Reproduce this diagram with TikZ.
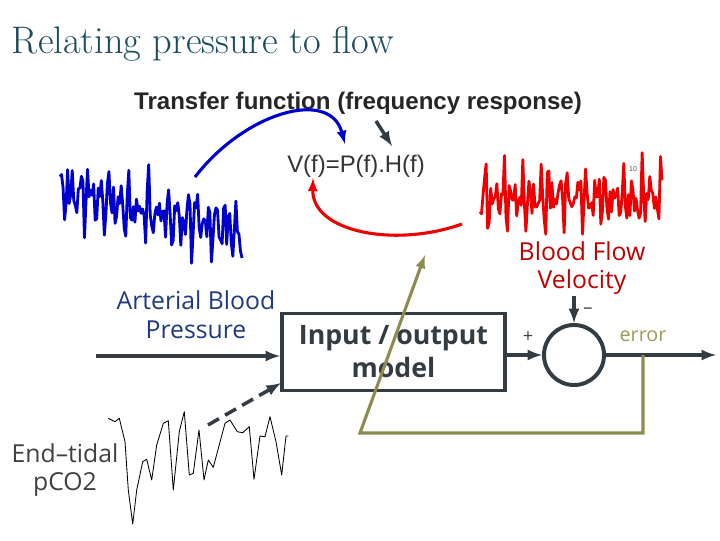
\documentclass[tikz,border=0pt]{standalone}
\usepackage{fontspec}
\usetikzlibrary{arrows,positioning}
\newfontfamily\arialfont{Liberation Sans}
\newfontfamily\softsans{Open Sans}
\definecolor{titleteal}{HTML}{1B4D5C}
\definecolor{slate}{HTML}{323C42}
\definecolor{navytext}{HTML}{1F3A80}
\definecolor{redtext}{HTML}{C00000}
\definecolor{sigred}{HTML}{EE0000}
\definecolor{sigblue}{HTML}{0000CC}
\definecolor{olivefb}{HTML}{8C8C50}
\definecolor{olivetext}{HTML}{9A9A5A}
\definecolor{graytext}{HTML}{404040}

\begin{document}
\begin{tikzpicture}[x=0.025cm, y=-0.025cm,
  comment/.style={font=\softsans\fontsize{17.6}{20.5}\selectfont, align=center},
  iobox/.style={draw=slate, line width=2.8pt, minimum width=5.575cm, minimum height=1.925cm,
    font=\softsans\bfseries\fontsize{19}{23.5}\selectfont, text=slate, align=center},
  sumnode/.style={circle, draw=slate, line width=2.8pt, minimum size=1.5cm, inner sep=0pt},
  conn/.style={slate, line width=2.5pt, -latex},
  feedback/.style={olivefb, line width=2.2pt},
  sig/.style={line join=round}]
\useasboundingbox (0,0) rectangle (720,540);

% headings
\node [anchor=base west, text=titleteal, font=\fontsize{27.3}{32}\selectfont] (title) at (7,53) {Relating pressure to flow};
\node [anchor=base, text=black!85, font=\arialfont\bfseries\fontsize{17.1}{20}\selectfont] (tf) at (358,109) {Transfer function (frequency response)};
\node [anchor=base, text=black!80, font=\arialfont\fontsize{17}{20}\selectfont] (eq) at (356,172) {V(f)=P(f).H(f)};

% signals (domain centred on 0 to keep the angles small)
\pgfmathsetseed{4}
\draw [sig, sigblue, line width=2pt] plot[domain=-91:91, samples=120]
  ({151+\x},{212+0.2*\x+15*sin(37*\x)+13*sin(53*\x+40)+11*sin(71*\x+100)+9*sin(94*\x+200)+8*rand});
\pgfmathsetseed{11}
\draw [sig, sigred, line width=2pt] plot[domain=-91:91, samples=120]
  ({571+\x},{198+14*sin(39*\x+20)+13*sin(57*\x+150)+11*sin(76*\x+260)+9*sin(99*\x+10)+8*rand});
\draw [sig, black, line width=0.6pt] plot coordinates {(108.3,418.3) (115,421.7) (119.3,418.3) (125,441.7) (128.3,490) (132.7,524) (136.7,490) (142.7,461.7) (146.7,459.3) (151.7,480) (156.7,445) (163.3,423.3) (168.3,420.7) (173.3,490) (179.3,431.7) (184.3,411.7) (189.3,475) (193.3,473.3) (199,430) (204,480) (208.3,460) (213.3,467.3) (225,423.3) (230,420) (237.3,431.7) (242.7,432.7) (249.3,426.7) (254,479.3) (260,436) (265,436.7) (270,416.7) (276,441.7) (281.7,475) (286,436) (288.3,436)};
\node [font=\arialfont\fontsize{5}{6}\selectfont, text=black!70] (tiny) at (633,169) {10};

% labels
\node [comment, text=navytext] (abp) at (196,315) {Arterial Blood\\Pressure};
\node [comment, text=redtext] (bfv) at (582,268) {Blood Flow\\Velocity};
\node [comment, text=graytext] (co2) at (65,470) {End–tidal\\pCO2};

% model and comparator
\node [iobox] (model) at (393.5,352) {Input / output\\model};
\node [sumnode] (sum) at (574,355) {};
\node [font=\softsans\fontsize{14}{16}\selectfont, text=olivetext, anchor=base] (err) at (643,341) {error};
\node [font=\softsans\fontsize{13}{14}\selectfont, text=graytext] (plus) at (528,337) {+};
\node [font=\softsans\fontsize{13}{14}\selectfont, text=graytext] (minus) at (588,311) {–};

\coordinate (abpin) at (96,356);
\coordinate (bfvin) at (574,296);
\coordinate (out) at (716,355);
\coordinate (co2tail) at (208,425);
\coordinate (co2tip) at (281,383);

\draw [conn] (abpin) -- (abpin -| model.west);
\draw [conn] (model.east |- sum.west) -- (sum.west);
\draw [conn] (bfvin) -- (sum.north);
\draw [conn] (sum.east) -- (out);
\draw [conn, dashed, dash pattern=on 9pt off 5pt] (co2tail) -- (co2tip);

% feedback from the error
\coordinate (errtap) at (643,355);
\coordinate (fbright) at (643,433);
\coordinate (fbleft) at (360,433);
\coordinate (fbtip) at (425,255);
\draw [feedback, -latex] (errtap) -- (fbright) -- (fbleft) -- (fbtip);

% arrows to the equation
\coordinate (tfout) at (376,121);
\coordinate (eqtop) at (392,146);
\draw [slate, line width=2.5pt, -latex] (tfout) -- (eqtop);
\coordinate (abpsig) at (195,177);
\coordinate (eqin) at (345,144);
\draw [sigblue, line width=2.2pt, -latex] (abpsig) .. controls (245,112) and (330,88) .. (eqin);
\coordinate (bfvsig) at (462,224);
\coordinate (eqout) at (313,178);
\draw [sigred, line width=2.2pt, -latex] (bfvsig) .. controls (395,248) and (312,232) .. (eqout);
\end{tikzpicture}
\end{document}
